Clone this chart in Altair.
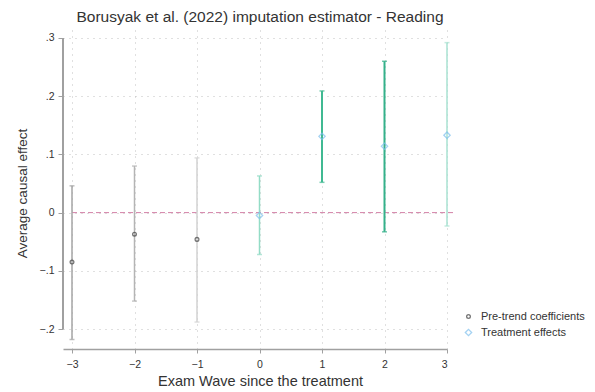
import altair as alt
import pandas as pd

waves = [-3, -2, -1, 0, 1, 2, 3]
estimates = [-0.085, -0.037, -0.046, -0.005, 0.131, 0.114, 0.133]
ci_low = [-0.218, -0.152, -0.188, -0.072, 0.052, -0.033, -0.023]
ci_high = [0.046, 0.080, 0.094, 0.063, 0.209, 0.260, 0.292]
series = ["Pre-trend coefficients"] * 3 + ["Treatment effects"] * 4
bar_colors = ["#a4a4a4", "#b4b4b4", "#d2d2d2", "#93dcc6", "#40b992", "#34b18a", "#a9e2d2"]
bar_widths = [1.5, 1.5, 1.5, 1.5, 2.0, 2.0, 1.5]
y_ticks = [-0.2, -0.1, 0, 0.1, 0.2, 0.3]

df = pd.DataFrame({
    "wave": waves, "est": estimates, "lo": ci_low, "hi": ci_high,
    "series": series, "col": bar_colors, "w": bar_widths,
})

FONT = "Liberation Sans"
xs = alt.Scale(domain=[-3.144, 3.0], nice=False, zero=False)
ys = alt.Scale(domain=[-0.2343, 0.3137], nice=False, zero=False)

base = alt.Chart(df)

xaxis = alt.Axis(values=waves, format="d", title="Exam Wave since the treatment", labelFontSize=10.5,
                 labelFont=FONT, titleFont=FONT, titleFontSize=14.5, titleFontWeight="normal",
                 titleColor="#333", labelColor="#333", tickSize=4, tickColor="#a0a0a0",
                 domainColor="#a0a0a0", domainWidth=1.5, grid=True, gridDash=[1, 5],
                 gridColor="#c0c0c0", labelPadding=6, titleY=32, titleBaseline="middle",
                 titleX=197)
yaxis = alt.Axis(values=y_ticks, title="Average causal effect", labelFontSize=10.5,
                 labelFont=FONT, titleFont=FONT, titleFontSize=13.5, titleFontWeight="normal",
                 titleColor="#333", labelColor="#333", tickSize=5, tickColor="#a0a0a0",
                 domain=False, grid=True, gridDash=[1, 5], gridColor="#c0c0c0", labelPadding=4,
                 labelExpr="replace(format(datum.value, '.1~f'), '0.', '.')",
                 titleX=-41, titleY=163, titleAngle=-90, titleBaseline="middle")

yline = base.mark_rule(color="#a0a0a0", strokeWidth=1.5).encode(
    x=alt.value(0),
    y=alt.datum(-0.2, scale=ys, axis=yaxis, type="quantitative"),
    y2=alt.datum(0.3),
)

zero = alt.Chart(pd.DataFrame({"z": [0]})).mark_rule(
    color="#d27fa6", strokeDash=[5, 3], strokeWidth=1
).encode(y=alt.Y("z:Q", scale=ys), x=alt.value(9), x2=alt.value(392))

bars = base.mark_rule().encode(
    x=alt.X("wave:Q", scale=xs, axis=xaxis),
    y=alt.Y("lo:Q", scale=ys),
    y2="hi:Q",
    color=alt.Color("col:N", scale=None),
    strokeWidth=alt.StrokeWidth("w:Q", scale=None),
)
cap_lo = base.mark_tick(orient="horizontal", size=5, thickness=1.5).encode(
    x=alt.X("wave:Q", scale=xs), y=alt.Y("lo:Q", scale=ys),
    color=alt.Color("col:N", scale=None),
)
cap_hi = base.mark_tick(orient="horizontal", size=5, thickness=1.5).encode(
    x=alt.X("wave:Q", scale=xs), y=alt.Y("hi:Q", scale=ys),
    color=alt.Color("col:N", scale=None),
)

points = base.mark_point(filled=False, strokeWidth=1.3).encode(
    x=alt.X("wave:Q", scale=xs),
    y=alt.Y("est:Q", scale=ys),
    shape=alt.Shape("series:N", scale=alt.Scale(domain=["Pre-trend coefficients", "Treatment effects"],
                                                  range=["circle", "diamond"]), legend=None),
    color=alt.Color("series:N", scale=alt.Scale(domain=["Pre-trend coefficients", "Treatment effects"],
                                                  range=["#404040", "#7ec0ee"]),
                    legend=alt.Legend(title=None, orient="none", legendX=400, legendY=281,
                                      labelFont=FONT, labelFontSize=11, labelColor="#333",
                                      symbolStrokeWidth=1.3, rowPadding=4, labelOffset=7)),
    size=alt.Size("series:N", scale=alt.Scale(domain=["Pre-trend coefficients", "Treatment effects"],
                                                range=[14, 40]), legend=None),
)

chart = alt.layer(yline, zero, bars, cap_lo, cap_hi, points).resolve_scale(
    y="shared"
).properties(
    width=384, height=319,
    title=alt.TitleParams("Borusyak et al. (2022) imputation estimator - Reading",
                          font=FONT, fontSize=15.5, fontWeight="normal", color="#333",
                          dx=5, offset=5),
    autosize=alt.AutoSizeParams(type="none"),
    padding={"left": 63, "top": 30, "right": 148, "bottom": 43},
).configure_view(stroke=None)

chart.save("out.html", embed_options={"renderer": "svg", "actions": False})
